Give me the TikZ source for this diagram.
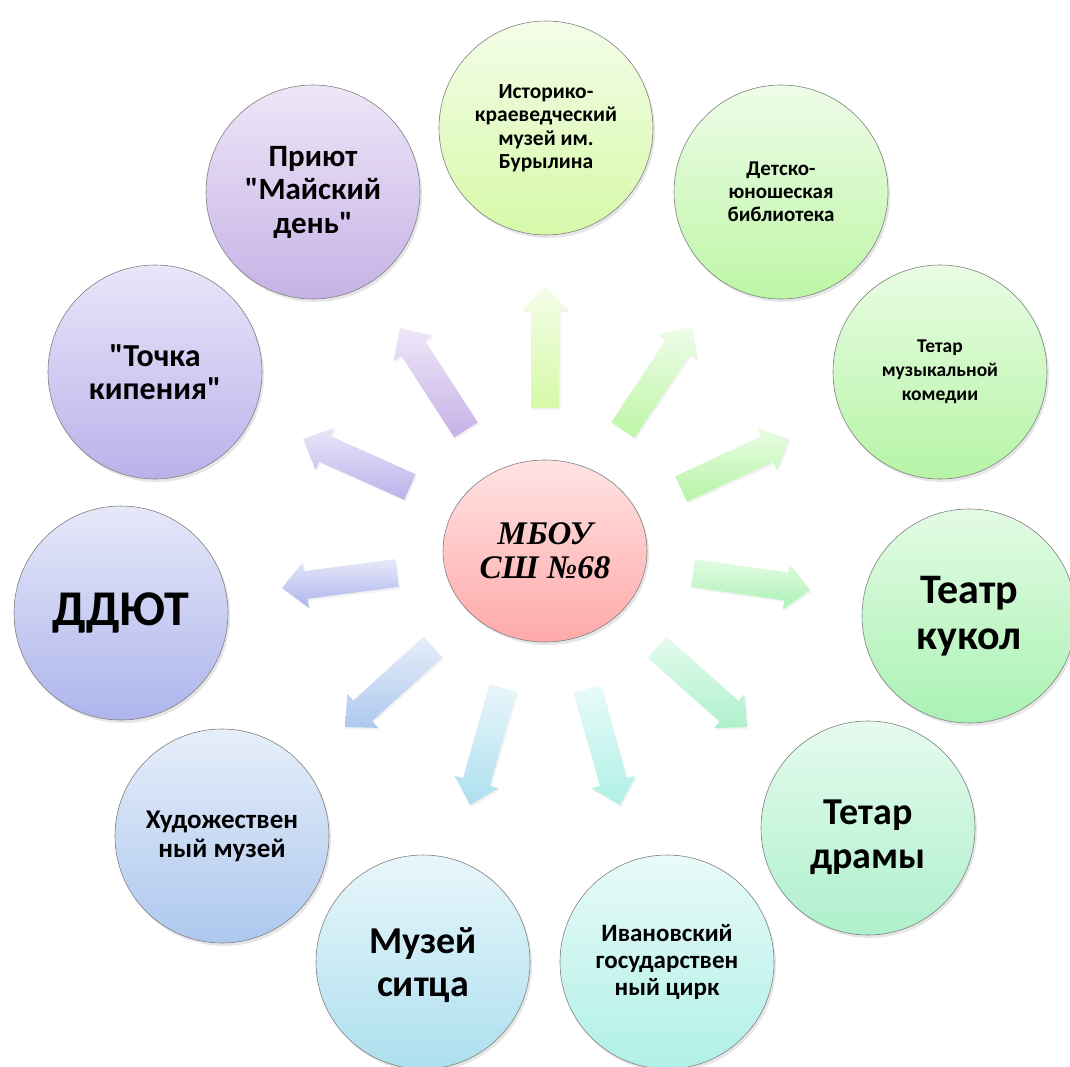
\documentclass[tikz,border=0pt]{standalone}
\usepackage{fontspec}
\newfontfamily\calib{Carlito}
\newfontfamily\tnr{Liberation Serif}
\usetikzlibrary{calc,shadows,shapes.geometric}

\definecolor{c1t}{HTML}{F4FDE9}\definecolor{c1b}{HTML}{D6F9A8}
\definecolor{c2t}{HTML}{EEFCE8}\definecolor{c2b}{HTML}{BDF6A6}
\definecolor{c3t}{HTML}{E8FCE3}\definecolor{c3b}{HTML}{B6F4A6}
\definecolor{c4t}{HTML}{E3FBE3}\definecolor{c4b}{HTML}{AAF2B4}
\definecolor{c5t}{HTML}{E5FBEE}\definecolor{c5b}{HTML}{AEF0CC}
\definecolor{c6t}{HTML}{E9FBF9}\definecolor{c6b}{HTML}{B0F0E6}
\definecolor{c7t}{HTML}{E8F6FB}\definecolor{c7b}{HTML}{ADDFEE}
\definecolor{c8t}{HTML}{E6EEFA}\definecolor{c8b}{HTML}{ADC8EE}
\definecolor{c9t}{HTML}{E6E8F9}\definecolor{c9b}{HTML}{AEB5EC}
\definecolor{c10t}{HTML}{E8E6F9}\definecolor{c10b}{HTML}{B9B2EA}
\definecolor{c11t}{HTML}{EEE6F8}\definecolor{c11b}{HTML}{C6B2E6}
\definecolor{cct}{HTML}{FFE3E3}\definecolor{ccb}{HTML}{FFA9A9}

\newcommand\blockarrow[3]{%
  \coordinate (#1b) at ($(#2)!24pt!(#1)$);
  \path[arr,top color=#3t,bottom color=#3b]
    ($(#1)!14pt!90:(#2)$) -- ($(#1b)!14pt!90:(#2)$) -- ($(#1b)!23pt!90:(#2)$)
    -- (#2) -- ($(#1b)!23pt!-90:(#2)$) -- ($(#1b)!14pt!-90:(#2)$)
    -- ($(#1)!14pt!-90:(#2)$) -- cycle;}

\tikzset{
  bub/.style={circle, minimum size=214pt, inner sep=0pt, draw=black!50,
    line width=0.6pt, align=center, text=black,
    drop shadow={shadow xshift=2pt, shadow yshift=-3pt, opacity=0.2}},
  shade/.style={top color=#1t, bottom color=#1b},
  arr/.style={drop shadow={shadow xshift=1.5pt, shadow yshift=-2pt, opacity=0.1}},
  fs/.style 2 args={font={\calib\bfseries\fontsize{#1}{#2}\selectfont}}
}

\begin{document}
\begin{tikzpicture}[x=1pt,y=-1pt]
\useasboundingbox (0,0) rectangle (1070,1067);

% arrows (tail, tip)
\coordinate (t1) at (545,408);  \coordinate (h1) at (545,286);
\coordinate (t2) at (623,430);  \coordinate (h2) at (691,327);
\coordinate (t3) at (681,489);  \coordinate (h3) at (789,439);
\coordinate (t4) at (693,573);  \coordinate (h4) at (810,590);
\coordinate (t5) at (657,647);  \coordinate (h5) at (747,727);
\coordinate (t6) at (587,689);  \coordinate (h6) at (620,805);
\coordinate (t7) at (503,688);  \coordinate (h7) at (470,805);
\coordinate (t8) at (433,647);  \coordinate (h8) at (345,727);
\coordinate (t9) at (397,573);  \coordinate (h9) at (282,588);
\coordinate (t10) at (410,487); \coordinate (h10) at (303,439);
\coordinate (t11) at (466,430); \coordinate (h11) at (400,328);

\blockarrow{t1}{h1}{c1}
\blockarrow{t2}{h2}{c2}
\blockarrow{t3}{h3}{c3}
\blockarrow{t4}{h4}{c4}
\blockarrow{t5}{h5}{c5}
\blockarrow{t6}{h6}{c6}
\blockarrow{t7}{h7}{c7}
\blockarrow{t8}{h8}{c8}
\blockarrow{t9}{h9}{c9}
\blockarrow{t10}{h10}{c10}
\blockarrow{t11}{h11}{c11}

% centre
\node[ellipse, minimum width=204pt, minimum height=182pt, inner sep=0pt,
  draw=black!50, line width=0.6pt, align=center, shade=cc,
  drop shadow={shadow xshift=2pt, shadow yshift=-3pt, opacity=0.2},
  font={\tnr\bfseries\itshape\fontsize{33}{34}\selectfont}]
  (c) at (545,551) {МБОУ\\СШ №68};

% outer circles
\node[bub, shade=c1, fs={21.5}{23.5}] (n1) at (546,128) {Историко-\\краеведческий\\музей им.\\Бурылина};
\node[bub, shade=c2, fs={21}{23}] (n2) at (781,192) {Детско-\\юношеская\\библиотека};
\node[bub, shade=c3, fs={19.5}{24}] (n3) at (940,372) {Тетар\\музыкальной\\комедии};
\node[bub, shade=c4, fs={42}{46}] (n4) at (969,616) {Театр\\кукол};
\node[bub, shade=c5, fs={38}{44}] (n5) at (868,828) {\rule{0pt}{43pt}Тетар\\драмы};
\node[bub, shade=c6, fs={25}{27}] (n6) at (667,962) {Ивановский\\государствен\\ный цирк};
\node[bub, shade=c7, fs={38}{43}] (n7) at (423,962) {\rule{0pt}{33pt}Музей\\ситца};
\node[bub, shade=c8, fs={27}{29}] (n8) at (222,836) {Художествен\\ный музей};
\node[bub, shade=c9, fs={50}{60}] (n9) at (121,613) {ДДЮТ};
\node[bub, shade=c10, fs={32}{33}] (n10) at (155,372) {"Точка\\кипения"};
\node[bub, shade=c11, fs={31}{33.5}] (n11) at (313,192) {Приют\\"Майский\\день"};
\end{tikzpicture}
\end{document}
